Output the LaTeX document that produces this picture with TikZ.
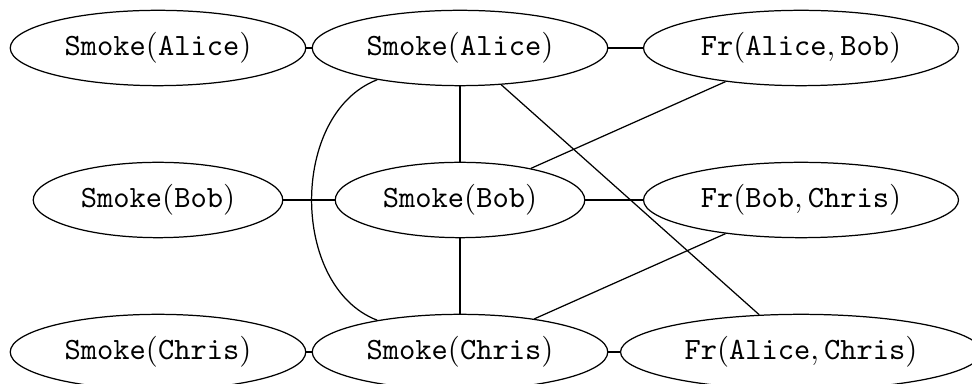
\documentclass[tikz,border=0pt]{standalone}
\usetikzlibrary{shapes.geometric}
\newcommand{\at}[1]{\mathtt{#1}}
\begin{document}
\begin{tikzpicture}[x=0.3229pt, y=-0.3229pt,
  atom/.style={draw, ellipse, inner sep=3.6pt}]
\useasboundingbox (0,0) rectangle (972,384);
% ground atoms
\node[atom] (sa)  at (158,48)  {$\at{Smoke}(\at{Alice})$};
\node[atom] (sam) at (460,48)  {$\at{Smoke}(\at{Alice})$};
\node[atom] (fab) at (801,48)  {$\at{Fr}(\at{Alice},\at{Bob})$};
\node[atom] (sb)  at (158,200) {$\at{Smoke}(\at{Bob})$};
\node[atom] (sbm) at (460,200) {$\at{Smoke}(\at{Bob})$};
\node[atom] (fbc) at (801,200) {$\at{Fr}(\at{Bob},\at{Chris})$};
\node[atom] (sc)  at (158,352) {$\at{Smoke}(\at{Chris})$};
\node[atom] (scm) at (460,352) {$\at{Smoke}(\at{Chris})$};
\node[atom] (fac) at (801,352) {$\at{Fr}(\at{Alice},\at{Chris})$};
% factor connections
\draw (sa) -- (sam);
\draw (sam) -- (fab);
\draw (sb) -- (sbm);
\draw (sbm) -- (fbc);
\draw (sc) -- (scm);
\draw (scm) -- (fac);
\draw (sam) -- (sbm);
\draw (sbm) -- (scm);
\draw (sam) to[bend right=69] (scm);
\draw (fab) -- (sbm);
\draw (fbc) -- (scm);
\draw (sam) -- (fac);
\end{tikzpicture}
\end{document}
